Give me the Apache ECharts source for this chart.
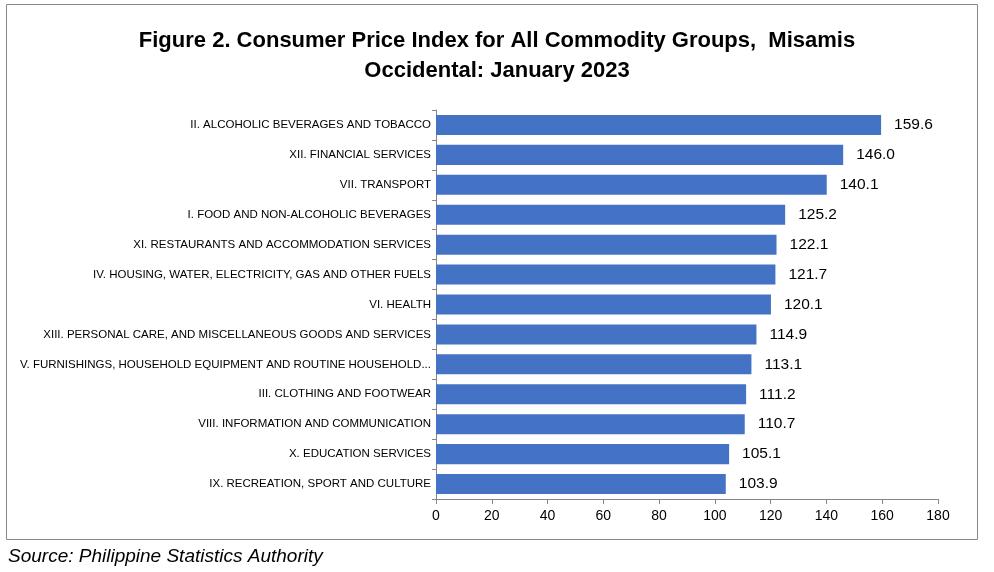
<!DOCTYPE html>
<html><head><meta charset="utf-8">
<script src="https://cdn.jsdelivr.net/npm/echarts@6/dist/echarts.min.js"></script>
<style>html,body{margin:0;padding:0;background:#fff}#c{width:994px;height:572px}</style>
</head><body><div id="c"></div>
<script>
const categories = [
  "II. ALCOHOLIC BEVERAGES AND TOBACCO",
  "XII. FINANCIAL SERVICES",
  "VII. TRANSPORT",
  "I. FOOD AND NON-ALCOHOLIC BEVERAGES",
  "XI. RESTAURANTS AND ACCOMMODATION SERVICES",
  "IV. HOUSING, WATER, ELECTRICITY, GAS AND OTHER FUELS",
  "VI. HEALTH",
  "XIII. PERSONAL CARE, AND MISCELLANEOUS GOODS AND SERVICES",
  "V. FURNISHINGS, HOUSEHOLD EQUIPMENT AND ROUTINE HOUSEHOLD...",
  "III. CLOTHING AND FOOTWEAR",
  "VIII. INFORMATION AND COMMUNICATION",
  "X. EDUCATION SERVICES",
  "IX. RECREATION, SPORT AND CULTURE"
];
const values = [159.6, 146.0, 140.1, 125.2, 122.1, 121.7, 120.1, 114.9, 113.1, 111.2, 110.7, 105.1, 103.9];
const titleLines = ["Figure 2. Consumer Price Index for All Commodity Groups,  Misamis", "Occidental: January 2023"];
const sourceText = "Source: Philippine Statistics Authority";

const chart = echarts.init(document.getElementById('c'), null, {renderer:'canvas'});
chart.setOption({
  animation:false,
  backgroundColor:'#fff',
  title:{
    text: titleLines.join('\n'),
    left:'center', top:21,
    textStyle:{fontFamily:'Liberation Sans, Arial', fontWeight:'bold', fontSize:22, lineHeight:30, color:'#000'}
  },
  grid:{left:436, right:56, top:110, bottom:73, containLabel:false, outerBoundsMode:'none'},
  xAxis:{
    type:'value', min:0, max:180, interval:20,
    axisLine:{show:true, lineStyle:{color:'#868686'}},
    axisTick:{show:true, length:5, lineStyle:{color:'#868686'}},
    splitLine:{show:false},
    axisLabel:{fontFamily:'Liberation Sans, Arial', fontSize:14, color:'#000', margin:10}
  },
  yAxis:{
    type:'category', data:categories, inverse:true,
    axisLine:{show:true, lineStyle:{color:'#868686'}},
    axisTick:{show:true, length:4, lineStyle:{color:'#868686'}},
    axisLabel:{fontFamily:'Liberation Sans, Arial', fontSize:11.5, color:'#000', margin:5}
  },
  series:[{
    type:'bar', data:values, barCategoryGap:'33%',
    itemStyle:{color:'#4472C4'},
    label:{show:true, position:'right', distance:13, formatter:p=>p.value.toFixed(1),
      fontFamily:'Liberation Sans, Arial', fontSize:15.5, color:'#000'}
  }],
  graphic:[
    {type:'rect', shape:{x:6.5, y:4.5, width:971, height:535}, style:{fill:'none', stroke:'#878787', lineWidth:1}, silent:true, z:-1},
    {type:'text', left:8, top:547, style:{text:sourceText, font:'italic 19px Liberation Sans, Arial', fill:'#000'}}
  ]
});
</script></body></html>
